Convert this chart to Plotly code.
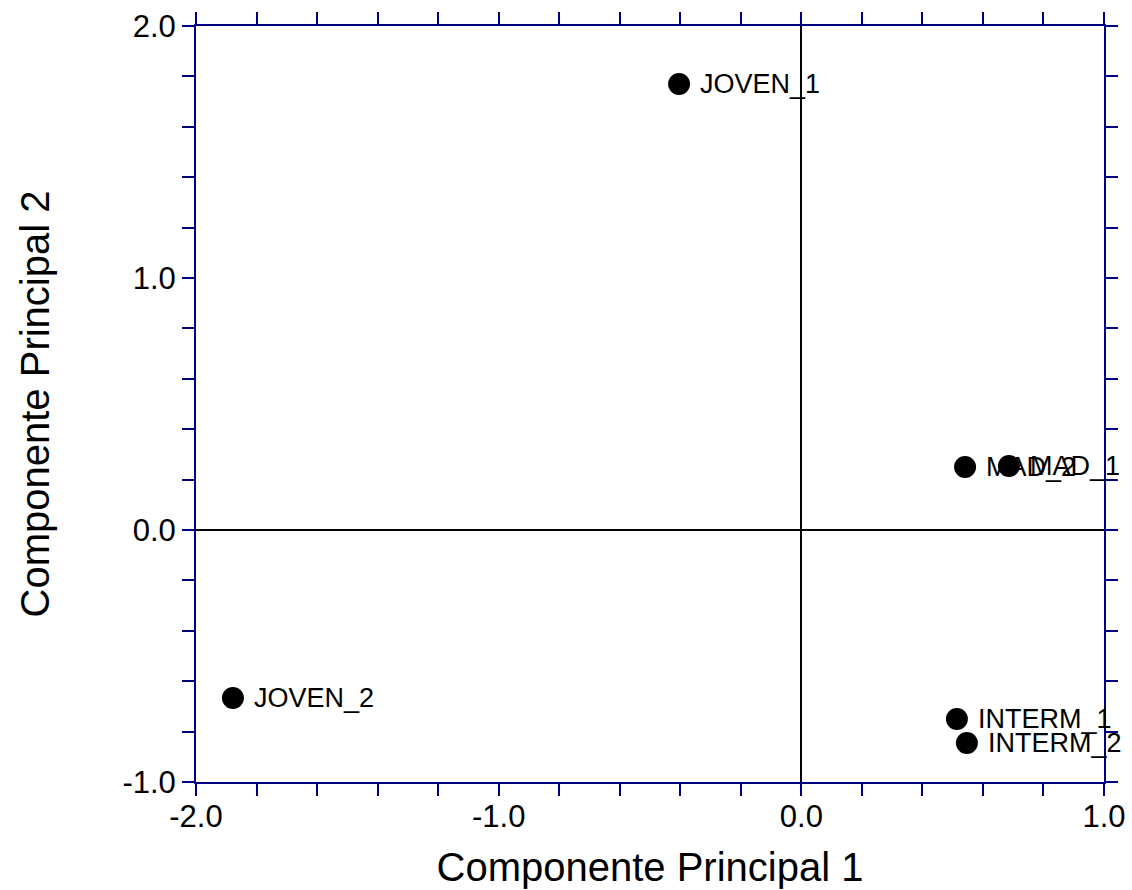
import plotly.graph_objects as go

# Scores on the first two principal components
labels = ["JOVEN_1", "JOVEN_2", "MAD_1", "MAD_2", "INTERM_1", "INTERM_2"]
pc1 = [-0.404, -1.878, 0.686, 0.541, 0.514, 0.547]
pc2 = [1.77, -0.667, 0.254, 0.25, -0.75, -0.845]

x_tick_vals = [round(-2.0 + 0.2 * i, 1) for i in range(16)]
y_tick_vals = [round(-1.0 + 0.2 * i, 1) for i in range(16)]


def tick_text(vals):
    # label only the whole-number ticks, the rest are minor marks
    return [f"{v:.1f}" if abs(v - round(v)) < 1e-9 else "" for v in vals]


font_family = "Liberation Sans, Arial, sans-serif"
navy = "#000080"

fig = go.Figure(
    go.Scatter(
        x=pc1,
        y=pc2,
        mode="markers",
        marker=dict(size=22, color="black"),
        cliponaxis=False,
        showlegend=False,
        hovertext=labels,
    )
)

# point labels, placed just right of each marker
for name, xv, yv in zip(labels, pc1, pc2):
    fig.add_annotation(
        x=xv, y=yv, text=name, showarrow=False,
        xanchor="left", yanchor="middle", xshift=19,
        font=dict(family=font_family, size=27, color="black"),
    )

axis_common = dict(
    showgrid=False,
    showline=True,
    linecolor=navy,
    linewidth=2,
    mirror="ticks",
    ticks="outside",
    ticklen=12,
    tickwidth=2,
    tickcolor=navy,
    tickfont=dict(family=font_family, size=31, color="black"),
    zeroline=True,
    zerolinecolor="black",
    zerolinewidth=2,
    automargin=False,
)

fig.update_xaxes(
    range=[-2.0, 1.0],
    tickmode="array",
    tickvals=x_tick_vals,
    ticktext=tick_text(x_tick_vals),
    ticklabelstandoff=-6,
    title=dict(text="Componente Principal 1",
               font=dict(family=font_family, size=40, color="black"),
               standoff=20),
    **axis_common,
)
fig.update_yaxes(
    range=[-1.0, 2.0],
    tickmode="array",
    tickvals=y_tick_vals,
    ticktext=tick_text(y_tick_vals),
    title=dict(text="Componente Principal 2",
               font=dict(family=font_family, size=40, color="black"),
               standoff=60),
    **axis_common,
)

fig.update_layout(
    width=1132,
    height=890,
    margin=dict(l=196, r=28, t=26, b=108),
    plot_bgcolor="white",
    paper_bgcolor="white",
)

fig.write_html("out.html")
